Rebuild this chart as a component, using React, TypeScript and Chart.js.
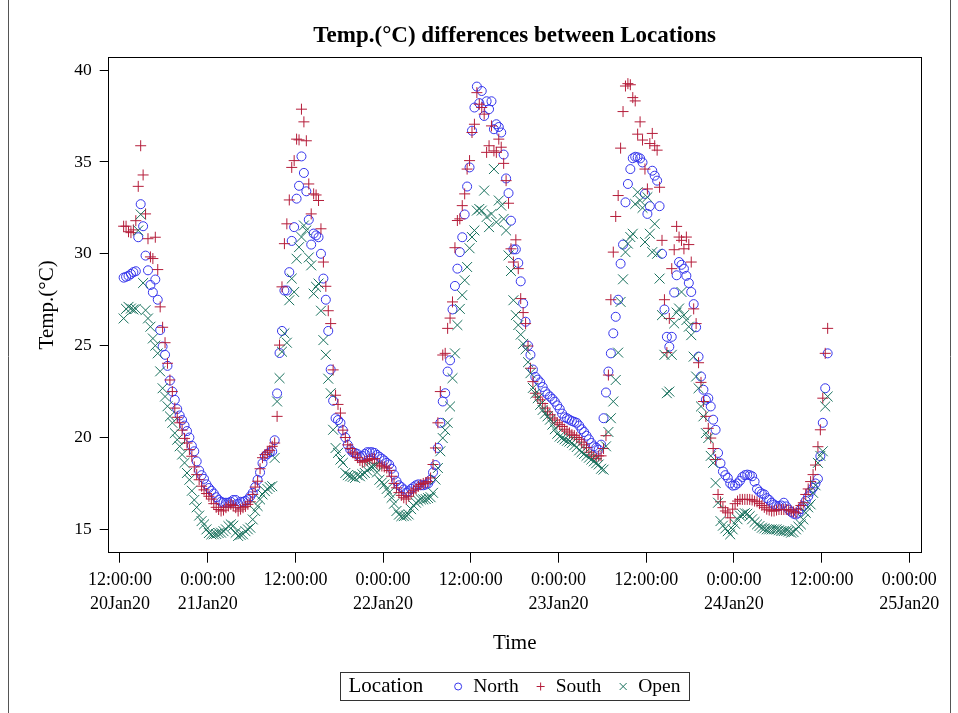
import React, { useEffect, useRef } from "react";
import { Chart, registerables } from "chart.js";

Chart.register(...registerables);

// Sampling: hours after 20Jan20 0:00:00, one reading every 20 minutes
const startHour = 12.5;
const stepHours = 1 / 3;

const north = [
  28.7, 28.75, 28.8, 28.9, 29.0, 29.05, 30.9, 32.7, 31.5, 29.9,
  29.1, 28.3, 27.9, 28.6, 27.5, 25.85, 24.95, 24.5, 23.9, 23.1,
  22.5, 22.05, 21.55, 21.2, 20.95, 20.65, 20.35, 20.0, 19.55, 19.25,
  18.7, 18.2, 17.95, 17.75, 17.45, 17.25, 17.1, 16.95, 16.75, 16.6,
  16.5, 16.45, 16.45, 16.45, 16.5, 16.6, 16.6, 16.4, 16.5, 16.5,
  16.55, 16.63, 16.8, 16.99, 17.3, 17.7, 18.1, 18.6, 18.98, 19.1,
  19.2, 19.25, 19.85, 22.4, 24.6, 25.8, 28.0, 28.0, 29.0, 30.7,
  31.45, 33.0, 33.7, 35.3, 34.4, 33.4, 31.85, 30.5, 31.1, 31.0,
  30.9, 30.0, 28.65, 27.5, 25.8, 23.7, 22.0, 21.05, 20.95, 20.8,
  20.4, 20.0, 19.6, 19.35, 19.2, 19.16, 19.1, 18.95, 19.0, 19.1,
  19.2, 19.2, 19.2, 19.16, 19.05, 18.95, 18.85, 18.75, 18.62, 18.53,
  18.3, 17.98, 17.62, 17.4, 17.3, 17.17, 17.0, 17.08, 17.2, 17.3,
  17.4, 17.45, 17.4, 17.4, 17.44, 17.5, 17.7, 18.1, 18.5, 19.43,
  20.8, 21.96, 22.41, 23.59, 24.2, 26.97, 28.25, 29.19, 30.09, 30.9,
  32.14, 33.66, 34.7, 36.7, 37.96, 39.1, 38.2, 38.86, 37.5, 38.3,
  37.87, 38.3, 36.78, 37.05, 36.9, 36.6, 35.4, 34.1, 33.3, 31.8,
  30.24, 30.24, 29.5, 28.5, 27.3, 26.3, 25.0, 24.5, 23.7, 23.3,
  23.15, 23.0, 22.75, 22.5, 22.35, 22.23, 22.1, 21.95, 21.75, 21.55,
  21.3, 21.1, 21.05, 20.97, 20.9, 20.85, 20.8, 20.65, 20.45, 20.3,
  20.1, 19.9, 19.7, 19.52, 19.45, 19.34, 19.61, 21.05, 22.45, 23.59,
  24.58, 25.67, 26.57, 27.5, 29.46, 30.5, 32.8, 33.8, 34.61, 35.2,
  35.28, 35.25, 35.19, 34.97, 33.26, 32.17, 32.59, 34.52, 34.25, 33.98,
  32.59, 30.0, 26.97, 25.48, 24.94, 25.48, 27.89, 28.83, 29.55, 29.4,
  29.19, 28.8, 28.41, 27.92, 27.26, 26.0, 24.4, 23.32, 22.6, 22.05,
  22.14, 21.69, 20.97, 20.42, 19.16, 18.6, 18.15, 17.95, 17.8, 17.5,
  17.38, 17.4, 17.5, 17.65, 17.85, 17.95, 17.98, 17.95, 17.89, 17.6,
  17.2, 17.05, 16.95, 16.9, 16.7, 16.6, 16.45, 16.35, 16.27, 16.27,
  16.3, 16.45, 16.25, 16.08, 15.95, 15.85, 15.81, 15.9, 16.1, 16.27,
  16.55, 16.8, 17.05, 17.26, 17.5, 17.75, 18.98, 20.8, 22.68, 24.58,
];

const south = [
  31.5, 31.5, 31.2, 31.15, 31.3, 31.8, 33.67, 35.88, 34.29, 32.17,
  30.82, 29.83, 29.74, 30.9, 29.14, 27.11, 26.0, 25.16, 24.04, 23.13,
  22.5, 21.6, 21.1, 20.8, 20.4, 19.95, 19.7, 19.34, 18.98, 18.4,
  17.98, 17.7, 17.35, 17.15, 16.95, 16.8, 16.65, 16.4, 16.2, 16.08,
  16.0, 16.05, 16.18, 16.27, 16.36, 16.3, 16.18, 16.0, 16.1, 16.18,
  16.25, 16.36, 16.5, 16.9, 17.3, 17.62, 18.3, 18.9, 19.07, 19.2,
  19.3, 19.52, 19.7, 21.15, 25.03, 28.2, 30.55, 31.63, 32.93, 34.7,
  35.07, 36.24, 36.2, 37.87, 37.18, 36.15, 33.8, 32.17, 33.26, 33.2,
  32.9, 31.36, 29.55, 28.23, 26.9, 26.2, 23.68, 22.3, 21.8, 21.33,
  20.4, 20.0, 19.6, 19.4, 19.2, 19.1, 18.9, 18.75, 18.65, 18.7,
  18.75, 18.8, 18.85, 18.85, 18.6, 18.5, 18.45, 18.4, 18.34, 18.2,
  17.89, 17.5, 17.26, 17.0, 16.85, 16.72, 16.65, 16.8, 16.99, 17.1,
  17.2, 17.35, 17.44, 17.5, 17.53, 17.6, 17.8, 18.53, 19.43, 20.8,
  22.5, 24.49, 24.58, 25.94, 26.5, 27.38, 30.33, 31.81, 31.9, 32.62,
  33.26, 34.61, 35.07, 36.6, 37.05, 38.77, 38.14, 37.96, 37.6, 35.52,
  35.88, 36.96, 35.6, 35.52, 36.24, 35.8, 34.92, 33.98, 32.75, 30.27,
  29.55, 30.76, 29.19, 27.56, 26.8, 26.2, 24.98, 23.77, 23.04, 22.41,
  22.2, 22.05, 21.85, 21.6, 21.4, 21.24, 21.06, 20.95, 20.8, 20.7,
  20.6, 20.45, 20.35, 20.25, 20.15, 20.1, 20.0, 19.9, 19.75, 19.6,
  19.45, 19.2, 19.05, 18.95, 18.85, 19.0, 19.0, 19.4, 20.1, 23.4,
  27.5, 30.09, 32.03, 33.17, 35.75, 37.74, 39.13, 39.26, 39.2, 38.5,
  38.32, 36.51, 37.18, 36.19, 34.61, 33.53, 36.0, 36.55, 35.88, 35.64,
  33.62, 30.73, 27.5, 24.62, 26.48, 29.19, 30.22, 31.49, 30.91, 30.73,
  30.27, 30.91, 30.5, 29.55, 27.0, 26.2, 24.07, 23.0, 21.96, 21.15,
  20.5, 19.97, 19.4, 18.8, 16.9, 16.5, 16.18, 16.0, 15.9, 15.63,
  16.1, 16.4, 16.54, 16.63, 16.63, 16.63, 16.63, 16.63, 16.6, 16.54,
  16.5, 16.4, 16.3, 16.2, 16.1, 16.05, 16.0, 16.0, 16.05, 16.08,
  16.08, 16.08, 16.08, 16.05, 16.0, 15.95, 15.9, 16.1, 16.3, 16.45,
  16.9, 17.2, 17.6, 17.98, 18.5, 19.5, 20.42, 22.14, 24.58, 25.94,
];

const open = [
  26.48, 27.0, 27.11, 27.02, 26.97, 27.0, 31.27, 32.14, 28.41, 26.93,
  26.48, 26.03, 25.39, 25.0, 24.58, 23.6, 22.68, 22.23, 21.7, 21.15,
  20.8, 20.24, 19.88, 19.52, 19.07, 18.62, 18.07, 17.7, 17.1, 16.6,
  16.2, 15.75, 15.45, 15.27, 15.0, 14.8, 14.73, 14.73, 14.75, 14.8,
  14.82, 14.9, 15.0, 15.18, 15.27, 15.2, 14.82, 14.64, 14.7, 14.73,
  14.9, 15.0, 15.09, 15.54, 16.0, 16.27, 16.63, 16.9, 17.08, 17.2,
  17.3, 17.35, 18.89, 21.96, 23.23, 24.67, 25.67, 25.16, 27.47, 28.65,
  27.92, 29.73, 30.36, 30.91, 31.54, 31.27, 29.8, 29.37, 27.83, 28.2,
  28.38, 26.9, 25.3, 24.5, 23.2, 22.41, 20.42, 19.43, 19.16, 18.8,
  18.62, 18.07, 17.95, 17.89, 17.85, 17.8, 17.95, 17.89, 18.0, 18.07,
  18.2, 18.34, 18.4, 18.43, 18.1, 17.7, 17.55, 17.44, 17.2, 17.0,
  16.72, 16.4, 16.0, 15.8, 15.72, 15.72, 15.75, 15.81, 16.1, 16.3,
  16.45, 16.55, 16.63, 16.63, 16.65, 16.7, 16.75, 16.99, 17.71, 18.34,
  19.25, 19.97, 20.4, 20.8, 21.69, 23.23, 24.58, 26.12, 27.0, 27.75,
  28.56, 29.28, 30.3, 30.91, 31.27, 32.35, 32.44, 32.35, 33.44, 32.0,
  31.45, 32.17, 34.61, 31.72, 32.9, 32.62, 31.9, 31.27, 29.91, 29.06,
  27.47, 26.66, 26.12, 25.6, 25.1, 24.8, 24.1, 23.5, 22.7, 22.4,
  22.14, 21.78, 21.5, 21.3, 21.15, 20.97, 20.7, 20.45, 20.2, 20.05,
  19.97, 19.9, 19.82, 19.78, 19.7, 19.58, 19.48, 19.3, 19.2, 19.1,
  19.0, 18.9, 18.8, 18.7, 18.6, 18.53, 18.3, 18.25, 19.52, 20.3,
  21.05, 21.96, 23.13, 24.62, 27.38, 28.61, 30.09, 30.55, 30.91, 31.09,
  32.71, 33.35, 32.9, 32.5, 30.64, 33.08, 31.09, 30.09, 31.63, 30.0,
  28.65, 26.66, 24.5, 22.41, 22.5, 24.5, 26.21, 26.8, 27.02, 27.92,
  26.66, 26.39, 26.03, 25.57, 24.4, 23.32, 22.68, 21.69, 21.15, 20.24,
  19.97, 19.0, 18.62, 17.53, 16.45, 15.45, 15.2, 15.05, 14.9, 14.73,
  15.0, 15.3, 15.55, 15.75, 15.82, 15.88, 15.85, 15.72, 15.55, 15.4,
  15.27, 15.18, 15.09, 15.05, 15.0, 15.0, 15.0, 15.0, 15.0, 14.95,
  14.91, 14.91, 14.91, 14.88, 14.82, 14.85, 15.0, 15.15, 15.27, 15.54,
  15.9, 16.2, 16.36, 16.99, 17.4, 18.62, 19.0, 19.25, 21.69, 22.23,
];

const seriesNames = ["North", "South", "Open"];
const legendTitle = "Location";
const chartTitle = "Temp.(\u00B0C) differences between Locations";
const xTitle = "Time";
const yTitle = "Temp.(\u00B0C)";

const xTickHours = [12, 24, 36, 48, 60, 72, 84, 96, 108, 120];
const xTickTimes = ["12:00:00", "0:00:00", "12:00:00", "0:00:00", "12:00:00", "0:00:00", "12:00:00", "0:00:00", "12:00:00", "0:00:00"];
const xTickDates = ["20Jan20", "21Jan20", "", "22Jan20", "", "23Jan20", "", "24Jan20", "", "25Jan20"];
const yTickValues = [15, 20, 25, 30, 35, 40];

const FONT = '"Liberation Serif", "Times New Roman", serif';
const COLORS = ["#3535ec", "#b51d3a", "#17705c"];
const STYLES = ["circle", "cross", "crossRot"];

function drawMarker(ctx: CanvasRenderingContext2D, kind: string, x: number, y: number, r: number, color: string) {
  ctx.save();
  ctx.strokeStyle = color;
  ctx.lineWidth = 1;
  ctx.beginPath();
  if (kind === "circle") {
    ctx.arc(x, y, r, 0, Math.PI * 2);
  } else if (kind === "cross") {
    ctx.moveTo(x - r, y);
    ctx.lineTo(x + r, y);
    ctx.moveTo(x, y - r);
    ctx.lineTo(x, y + r);
  } else {
    ctx.moveTo(x - r, y - r);
    ctx.lineTo(x + r, y + r);
    ctx.moveTo(x - r, y + r);
    ctx.lineTo(x + r, y - r);
  }
  ctx.stroke();
  ctx.restore();
}

const decorPlugin = {
  id: "decor",
  afterDraw(chart: any) {
    const ctx: CanvasRenderingContext2D = chart.ctx;
    const a = chart.chartArea;
    const cx = (a.left + a.right) / 2;
    ctx.save();
    // page side rules
    ctx.strokeStyle = "#555";
    ctx.lineWidth = 1;
    ctx.beginPath();
    ctx.moveTo(8.5, 0);
    ctx.lineTo(8.5, chart.height);
    ctx.moveTo(950.5, 0);
    ctx.lineTo(950.5, chart.height);
    ctx.stroke();
    // plot frame
    ctx.strokeStyle = "#000";
    const l = Math.round(a.left) + 0.5;
    const t = Math.round(a.top) + 0.5;
    const r = Math.round(a.right) - 0.5;
    const b = Math.round(a.bottom) - 0.5;
    ctx.strokeRect(l, t, r - l, b - t);
    // title
    ctx.fillStyle = "#000";
    ctx.textAlign = "center";
    ctx.textBaseline = "middle";
    ctx.font = "bold 23px " + FONT;
    ctx.fillText(chartTitle, cx, 36);
    // axis titles
    ctx.font = "21px " + FONT;
    ctx.fillText(xTitle, cx, 643);
    ctx.save();
    ctx.translate(47, (a.top + a.bottom) / 2);
    ctx.rotate(-Math.PI / 2);
    ctx.fillText(yTitle, 0, 0);
    ctx.restore();
    // legend
    ctx.textAlign = "left";
    ctx.font = "21px " + FONT;
    const titleW = ctx.measureText(legendTitle).width;
    ctx.font = "19.5px " + FONT;
    const itemW = seriesNames.map((n) => ctx.measureText(n).width);
    const padL = 8, padR = 9, firstGap = 35, gap = 22, textOff = 15;
    let total = padL + titleW;
    itemW.forEach((w, i) => {
      total += (i === 0 ? firstGap : gap) + textOff + w;
    });
    total += padR;
    const boxH = 28;
    const boxL = Math.round(cx - total / 2) + 0.5;
    const boxT = 672.5;
    const midY = boxT + boxH / 2;
    ctx.strokeStyle = "#333";
    ctx.strokeRect(boxL, boxT, Math.round(total), boxH);
    ctx.fillStyle = "#000";
    ctx.font = "21px " + FONT;
    let cur = boxL + padL;
    ctx.fillText(legendTitle, cur, midY);
    cur += titleW;
    ctx.font = "19.5px " + FONT;
    seriesNames.forEach((n, i) => {
      const mx = cur + (i === 0 ? firstGap : gap);
      drawMarker(ctx, STYLES[i], mx, midY, i === 0 ? 3.5 : i === 1 ? 4 : 3.5, COLORS[i]);
      ctx.fillStyle = "#000";
      ctx.fillText(n, mx + textOff, midY);
      cur = mx + textOff + itemW[i];
    });
    ctx.restore();
  },
};

function toPoints(vals: number[]) {
  return vals.map((y, i) => ({ x: startHour + i * stepHours, y }));
}

export default function App() {
  const ref = useRef<HTMLCanvasElement | null>(null);
  useEffect(() => {
    if (!ref.current) return;
    const seriesData = [north, south, open];
    const radii = [4.5, 5.5, 7];
    const chart = new Chart(ref.current, {
      type: "scatter",
      data: {
        datasets: seriesData.map((vals, i) => ({
          label: seriesNames[i],
          data: toPoints(vals),
          pointStyle: STYLES[i] as any,
          pointRadius: radii[i],
          pointBorderWidth: 1,
          borderColor: COLORS[i],
          pointBorderColor: COLORS[i],
          backgroundColor: "rgba(0,0,0,0)",
          pointBackgroundColor: "rgba(0,0,0,0)",
          showLine: false,
          order: 3 - i,
        })),
      },
      options: {
        animation: false,
        responsive: false,
        devicePixelRatio: 1,
        events: [],
        layout: { padding: { top: 57, right: 36.3, bottom: 0, left: 0 } },
        plugins: {
          legend: { display: false },
          title: { display: false },
          tooltip: { enabled: false },
        },
        scales: {
          x: {
            type: "linear",
            min: 10.32,
            max: 121.7,
            afterBuildTicks: (s: any) => {
              s.ticks = xTickHours.map((v) => ({ value: v }));
            },
            afterFit: (s: any) => {
              s.height = 160.3;
            },
            grid: { display: true, drawOnChartArea: false, drawTicks: true, tickLength: 10, color: "#000", lineWidth: 1 },
            border: { display: false },
            ticks: {
              autoSkip: false,
              maxRotation: 0,
              minRotation: 0,
              padding: 6,
              color: "#000",
              font: { family: FONT, size: 18, lineHeight: 1.333 },
              callback: (v: any) => {
                const idx = xTickHours.indexOf(Number(v));
                if (idx < 0) return "";
                return xTickDates[idx] ? [xTickTimes[idx], xTickDates[idx]] : xTickTimes[idx];
              },
            },
          },
          y: {
            type: "linear",
            min: 13.73,
            max: 40.71,
            afterBuildTicks: (s: any) => {
              s.ticks = yTickValues.map((v) => ({ value: v }));
            },
            afterFit: (s: any) => {
              s.width = 107.7;
            },
            grid: { display: true, drawOnChartArea: false, drawTicks: true, tickLength: 8, color: "#000", lineWidth: 1 },
            border: { display: false },
            ticks: {
              padding: 8,
              color: "#000",
              font: { family: FONT, size: 17.5 },
              callback: (v: any) => String(v),
            },
          },
        },
      },
      plugins: [decorPlugin],
    });
    return () => chart.destroy();
  }, []);
  return (
    <canvas
      ref={ref}
      width={958}
      height={713}
      style={{ position: "absolute", left: 0, top: 0, width: 958, height: 713 }}
    />
  );
}
